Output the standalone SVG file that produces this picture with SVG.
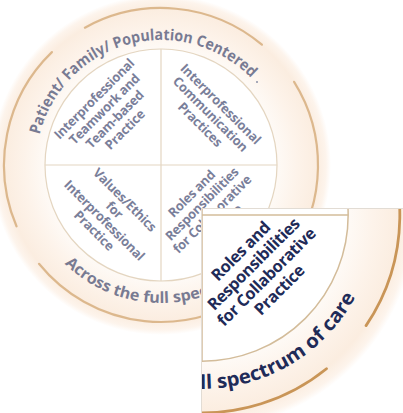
<svg xmlns="http://www.w3.org/2000/svg" xmlns:xlink="http://www.w3.org/1999/xlink" width="403" height="413" viewBox="0 0 403 413">
<style>
.lbl{font-family:"Open Sans","Noto Sans",sans-serif;font-weight:700;font-size:13px;letter-spacing:-0.3px;fill:#1f2b58;text-anchor:middle}
.arc{font-family:"Open Sans","Noto Sans",sans-serif;font-weight:700;font-size:15.5px;fill:#1f2b58}
.gold{fill:none;stroke:#c99557;stroke-width:2.2;stroke-linecap:round}
.div{fill:none;stroke:#d3bc9a;stroke-width:1.2}
</style>
<defs>
<radialGradient id="ring" gradientUnits="userSpaceOnUse" cx="161" cy="165" r="170">
<stop offset="0.68" stop-color="#fefaf6"/>
<stop offset="0.8" stop-color="#fdf3ea"/>
<stop offset="0.92" stop-color="#fbede0"/>
<stop offset="0.97" stop-color="#fdf4ec"/>
<stop offset="1" stop-color="#ffffff"/>
</radialGradient>
<clipPath id="insetClip"><rect x="201" y="208" width="202" height="205"/></clipPath>
<path id="topArc" d="M36,165 A125,125 0 0 1 286,165"/>
<path id="botArc" d="M23,165 A138,138 0 0 0 299,165"/>
<g id="band">
<circle cx="161" cy="165" r="170" fill="url(#ring)"/>
<circle cx="161" cy="165" r="116" fill="#ffffff"/>
</g>
<g id="lines">
<circle class="div" cx="161" cy="165" r="116"/>
<line class="div" x1="161" y1="49" x2="161" y2="281"/>
<line class="div" x1="45" y1="165" x2="277" y2="165"/>
<path class="gold" d="M16.5,226.3 A157,157 0 0 1 51.9,52.1"/>
<path class="gold" d="M84.9,27.7 A157,157 0 0 1 261.9,44.7"/>
<path class="gold" d="M294.1,81.8 A157,157 0 0 1 291.2,252.8"/>
<path class="gold" d="M259.8,287 A157,157 0 0 1 39,263.8"/>
</g>
<g id="labels">
<text class="arc"><textPath href="#topArc" startOffset="30.5" textLength="266" lengthAdjust="spacingAndGlyphs">Patient/ Family/ Population Centered</textPath></text>
<text class="arc"><textPath href="#botArc" startOffset="109.8" textLength="256" lengthAdjust="spacingAndGlyphs">Across the full spectrum of care</textPath></text>
<g id="q-teamwork" transform="rotate(-45)">
<text class="lbl" x="-3.4" y="141">Interprofessional</text>
<text class="lbl" x="-3.4" y="155.5">Teamwork and</text>
<text class="lbl" x="-3.4" y="170">Team-based</text>
<text class="lbl" x="-3.4" y="184.5">Practice</text>
</g>
<g id="q-communication" transform="rotate(45)">
<text class="lbl" x="229.5" y="-78">Interprofessional</text>
<text class="lbl" x="229.5" y="-63.5">Communication</text>
<text class="lbl" x="229.5" y="-49">Practices</text>
</g>
<g id="q-values" transform="rotate(45)">
<text class="lbl" x="229.5" y="57.5">Values/Ethics</text>
<text class="lbl" x="229.5" y="72">for</text>
<text class="lbl" x="229.5" y="86.5">Interprofessional</text>
<text class="lbl" x="229.5" y="101">Practice</text>
</g>
<g id="q-roles" transform="rotate(-45)">
<text class="lbl" x="-1.5" y="277">Roles and</text>
<text class="lbl" x="-1.5" y="291.5">Responsibilities</text>
<text class="lbl" x="-1.5" y="306">for Collaborative</text>
<text class="lbl" x="-1.5" y="320.5">Practice</text>
</g>
</g>
</defs>
<rect width="403" height="413" fill="#ffffff"/>
<g id="main-wheel">
<use href="#band"/>
<use href="#lines" opacity="0.6"/>
<use href="#labels" opacity="0.6"/>
<circle cx="257" cy="82" r="1" fill="#8a90a8"/>
</g>
<g id="inset">
<rect x="201" y="208" width="202" height="205" fill="#ffffff"/>
<g clip-path="url(#insetClip)">
<g transform="translate(202,215) scale(1.26) translate(-161,-165)">
<use href="#band"/>
<use href="#lines"/>
<use href="#labels"/>
</g>
</g>
<path d="M201.5,413 V208.5 H403" fill="none" stroke="#e2dcd4" stroke-width="1"/>
</g>
</svg>
